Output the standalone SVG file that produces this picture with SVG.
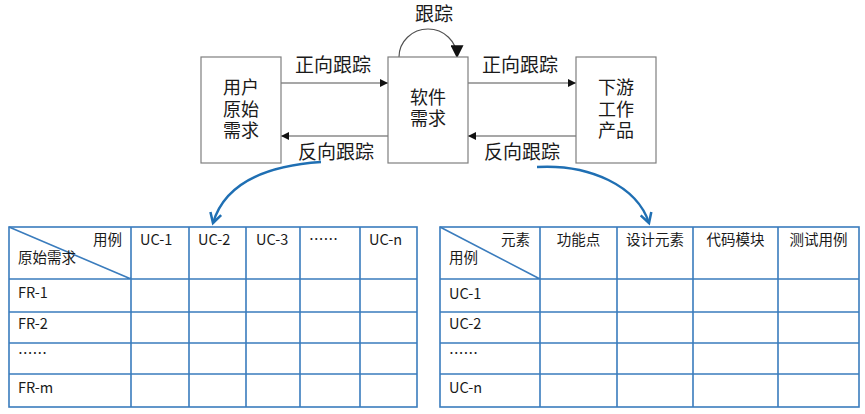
<svg xmlns="http://www.w3.org/2000/svg" width="865" height="414" viewBox="0 0 865 414">
<style>
text{font-family:"Noto Sans CJK SC","Noto Sans",sans-serif;fill:#1a1a1a}
.box{fill:#fff;stroke:#7f7f7f;stroke-width:1.2}
.bt{font-family:"Liberation Sans","Noto Sans CJK SC",sans-serif;font-size:18px;text-anchor:middle}
.lbl{font-size:19px;text-anchor:middle}
.con{fill:none;stroke:#505050;stroke-width:1.2}
.blue{fill:none;stroke:#1f6fb3;stroke-width:2.4}
.tb{fill:none;stroke:#3a7cbd;stroke-width:1.6}
.tt{font-size:14.5px}
</style>
<defs>
<marker id="ah" viewBox="0 0 10 10" refX="10" refY="5" markerWidth="8" markerHeight="8" markerUnits="userSpaceOnUse" orient="auto">
<path d="M0,0 L10,5 L0,10 z" fill="#111"/>
</marker>
<marker id="ahl" viewBox="0 0 10 10" refX="9" refY="5" markerWidth="13" markerHeight="13" markerUnits="userSpaceOnUse" orient="auto">
<path d="M0,0 L10,5 L0,10 z" fill="#111"/>
</marker>
<marker id="bh" viewBox="0 0 10 10" refX="8" refY="5" markerWidth="14" markerHeight="14" markerUnits="userSpaceOnUse" orient="auto">
<path d="M1,1 L8,5 L1,9" fill="none" stroke="#1f6fb3" stroke-width="1.8"/>
</marker>
</defs>
<rect width="865" height="414" fill="#fff"/>

<g id="connectors">
<line class="con" x1="281" y1="83" x2="388" y2="83" marker-end="url(#ah)"/>
<line class="con" x1="388" y1="136" x2="281" y2="136" marker-end="url(#ah)"/>
<line class="con" x1="468" y1="83" x2="576" y2="83" marker-end="url(#ah)"/>
<line class="con" x1="576" y1="136" x2="468" y2="136" marker-end="url(#ah)"/>
<path class="con" d="M399,57 A29,28 0 0 1 457,57" marker-end="url(#ahl)"/>
<path class="blue" d="M321,162 C262,166 224,186 213,223" marker-end="url(#bh)"/>
<path class="blue" d="M537,167 C590,164 637,186 649,223" marker-end="url(#bh)"/>
<text class="lbl" x="434" y="21">跟踪</text>
<text class="lbl" x="333" y="72">正向跟踪</text>
<text class="lbl" x="520" y="72">正向跟踪</text>
<text class="lbl" x="336" y="159">反向跟踪</text>
<text class="lbl" x="522" y="159">反向跟踪</text>
</g>

<g id="user-req">
<rect class="box" x="201" y="57" width="80" height="106"/>
<text class="bt" x="241" y="94">用户</text>
<text class="bt" x="241" y="115.5">原始</text>
<text class="bt" x="241" y="137">需求</text>
</g>
<g id="sw-req">
<rect class="box" x="388" y="57" width="80" height="106"/>
<text class="bt" x="428" y="104">软件</text>
<text class="bt" x="428" y="125">需求</text>
</g>
<g id="downstream">
<rect class="box" x="576" y="57" width="80" height="106"/>
<text class="bt" x="616" y="94">下游</text>
<text class="bt" x="616" y="115.5">工作</text>
<text class="bt" x="616" y="137">产品</text>
</g>

<g id="table-left">
<rect class="tb" x="9" y="227" width="408" height="180"/>
<path class="tb" d="M131,227V407 M189,227V407 M246,227V407 M300,227V407 M360,227V407 M9,279H417 M9,312H417 M9,343H417 M9,374H417 M9,227L131,279"/>
<text class="tt" x="122" y="245" text-anchor="end">用例</text>
<text class="tt" x="18" y="263">原始需求</text>
<text class="tt" x="140" y="245">UC-1</text>
<text class="tt" x="198" y="245">UC-2</text>
<text class="tt" x="256" y="245">UC-3</text>
<text class="tt" x="309" y="245">……</text>
<text class="tt" x="369" y="245">UC-n</text>
<text class="tt" x="18" y="298">FR-1</text>
<text class="tt" x="18" y="329">FR-2</text>
<text class="tt" x="18" y="359">……</text>
<text class="tt" x="18" y="393">FR-m</text>
</g>

<g id="table-right">
<rect class="tb" x="440" y="227" width="419" height="180"/>
<path class="tb" d="M540,227V407 M617,227V407 M693,227V407 M778,227V407 M440,279H859 M440,312H859 M440,343H859 M440,374H859 M440,227L540,279"/>
<text class="tt" x="530" y="245" text-anchor="end">元素</text>
<text class="tt" x="449" y="263">用例</text>
<text class="tt" x="578.5" y="245" text-anchor="middle">功能点</text>
<text class="tt" x="655" y="245" text-anchor="middle">设计元素</text>
<text class="tt" x="735.5" y="245" text-anchor="middle">代码模块</text>
<text class="tt" x="818.5" y="245" text-anchor="middle">测试用例</text>
<text class="tt" x="449" y="299">UC-1</text>
<text class="tt" x="449" y="329">UC-2</text>
<text class="tt" x="449" y="359">……</text>
<text class="tt" x="449" y="393">UC-n</text>
</g>
</svg>
